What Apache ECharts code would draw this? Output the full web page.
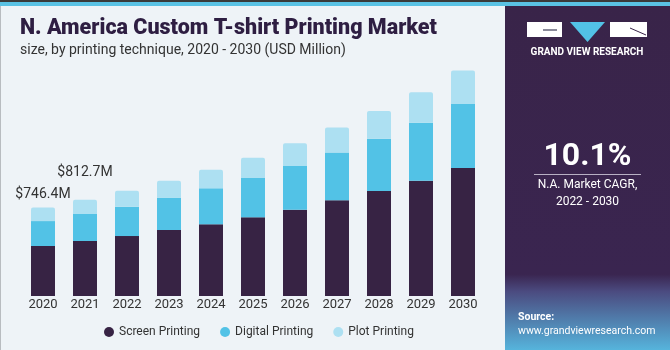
<!DOCTYPE html>
<html>
<head>
<meta charset="utf-8">
<script src="https://cdn.jsdelivr.net/npm/echarts@6/dist/echarts.min.js"></script>
<style>
  html, body { margin: 0; padding: 0; background: #eef3f7; }
  #container { width: 670px; height: 350px; }
</style>
</head>
<body>
<div id="container"></div>
<script type="text/javascript">
// data (USD Million)
var years = ['2020', '2021', '2022', '2023', '2024', '2025', '2026', '2027', '2028', '2029', '2030'];
var screenPrinting = [422, 464, 506, 557, 605, 664, 728, 808, 886, 973, 1080];
var digitalPrinting = [210, 228, 247, 273, 304, 332, 369, 402, 441, 490, 540];
var plotPrinting = [114, 121, 135, 143, 157, 171, 192, 211, 234, 257, 284];
var totalLabels = ['$746.4M', '$812.7M'];
var labelDistance = [6, 20];

var dom = document.getElementById('container');
var myChart = echarts.init(dom);
var font = 'Roboto, "Liberation Sans", sans-serif';

var plotData = [];
for (var i = 0; i < plotPrinting.length; i++) {
    if (i < totalLabels.length) {
        plotData.push({
            value: plotPrinting[i],
            label: {
                show: true,
                position: 'top',
                distance: labelDistance[i],
                formatter: totalLabels[i],
                color: '#333333',
                fontSize: 14,
                fontFamily: font
            }
        });
    } else {
        plotData.push(plotPrinting[i]);
    }
}

function box(x, y, w, h) {
    return [[x, y], [x + w, y], [x + w, y + h], [x, y + h]];
}

var option = {
    backgroundColor: '#eef3f7',
    animation: false,
    title: {
        text: 'N. America Custom T-shirt Printing Market',
        subtext: 'size, by printing technique, 2020 - 2030 (USD Million)',
        left: 15,
        top: 13,
        itemGap: 3,
        textStyle: { fontFamily: font, fontSize: 21.5, fontWeight: 900, color: '#2e1e42' },
        subtextStyle: { fontFamily: font, fontSize: 14, color: '#333333' }
    },
    legend: {
        bottom: 7,
        left: 99,
        icon: 'circle',
        itemWidth: 10,
        itemHeight: 10,
        itemGap: 20,
        textStyle: { fontFamily: font, fontSize: 12, color: '#333333' },
        data: ['Screen Printing', 'Digital Printing', 'Plot Printing']
    },
    grid: { left: 22, width: 462, top: 59, height: 237 },
    xAxis: {
        type: 'category',
        data: years,
        axisLine: { show: false },
        axisTick: { show: false },
        axisLabel: { margin: 2, fontFamily: font, fontSize: 13, color: '#333333' }
    },
    yAxis: {
        type: 'value',
        min: 0,
        max: 2000,
        show: false,
        splitLine: { show: false }
    },
    graphic: [
        { type: 'polygon', z: 1, shape: { points: box(0, 0, 670, 2) }, style: { fill: '#3a3a3a' } },
        { type: 'polygon', z: 1, shape: { points: box(0, 2, 670, 4) }, style: { fill: '#5ac2e4' } },
        { type: 'polygon', z: 1, shape: { points: box(0, 6, 1, 344) }, style: { fill: '#b8bcc0' } },
        {
            type: 'polygon', z: 1,
            shape: { points: box(505, 6, 165, 344) },
            style: {
                fill: new echarts.graphic.LinearGradient(0, 0, 0, 1, [
                    { offset: 0, color: '#392449' },
                    { offset: 0.78, color: '#3a2550' },
                    { offset: 0.83, color: '#4b4b80' },
                    { offset: 1, color: '#56b4dc' }
                ])
            }
        },
        // logo blocks drawn as thick lines
        { type: 'line', z: 5, shape: { x1: 527, y1: 29.5, x2: 562, y2: 29.5 }, style: { stroke: '#ffffff', lineWidth: 15 } },
        { type: 'line', z: 6, shape: { x1: 543, y1: 30, x2: 557, y2: 30 }, style: { stroke: '#8a8a9a', lineWidth: 2 } },
        { type: 'polygon', z: 5, shape: { points: [[570, 22], [605, 22], [587.5, 42]] }, style: { fill: '#52c2e6' } },
        { type: 'line', z: 5, shape: { x1: 610, y1: 29.5, x2: 647, y2: 29.5 }, style: { stroke: '#ffffff', lineWidth: 15 } },
        { type: 'line', z: 6, shape: { x1: 630, y1: 28, x2: 646, y2: 35 }, style: { stroke: '#392449', lineWidth: 1 } },
        {
            type: 'text', z: 5, x: 587, y: 52,
            style: { text: 'GRAND VIEW RESEARCH', fill: '#ffffff', font: 'bold 10px ' + font, align: 'center', verticalAlign: 'middle' }
        },
        {
            type: 'text', z: 5, x: 587.5, y: 157,
            style: { text: '10.1%', fill: '#ffffff', font: 'bold 32px ' + font, align: 'center', verticalAlign: 'middle' }
        },
        { type: 'polygon', z: 5, shape: { points: box(534, 174, 107, 1) }, style: { fill: '#b8b0c4' } },
        {
            type: 'text', z: 5, x: 587.5, y: 185,
            style: { text: 'N.A. Market CAGR,', fill: '#ffffff', font: '12px ' + font, align: 'center', verticalAlign: 'middle' }
        },
        {
            type: 'text', z: 5, x: 587.5, y: 202,
            style: { text: '2022 - 2030', fill: '#ffffff', font: '12px ' + font, align: 'center', verticalAlign: 'middle' }
        },
        {
            type: 'text', z: 5, x: 518, y: 317,
            style: { text: 'Source:', fill: '#ffffff', font: 'bold 10.5px ' + font, verticalAlign: 'middle' }
        },
        {
            type: 'text', z: 5, x: 518, y: 331,
            style: { text: 'www.grandviewresearch.com', fill: '#ffffff', font: '10.5px ' + font, verticalAlign: 'middle' }
        }
    ],
    series: [
        {
            name: 'Screen Printing',
            type: 'bar',
            stack: 'total',
            barWidth: 24,
            itemStyle: { color: '#372344' },
            data: screenPrinting
        },
        {
            name: 'Digital Printing',
            type: 'bar',
            stack: 'total',
            barWidth: 24,
            itemStyle: { color: '#52c2e6' },
            data: digitalPrinting
        },
        {
            name: 'Plot Printing',
            type: 'bar',
            stack: 'total',
            barWidth: 24,
            itemStyle: { color: '#ade0f2', borderRadius: [2, 2, 0, 0] },
            data: plotData
        }
    ]
};

if (option && typeof option === 'object') {
    myChart.setOption(option);
}
</script>
</body>
</html>
